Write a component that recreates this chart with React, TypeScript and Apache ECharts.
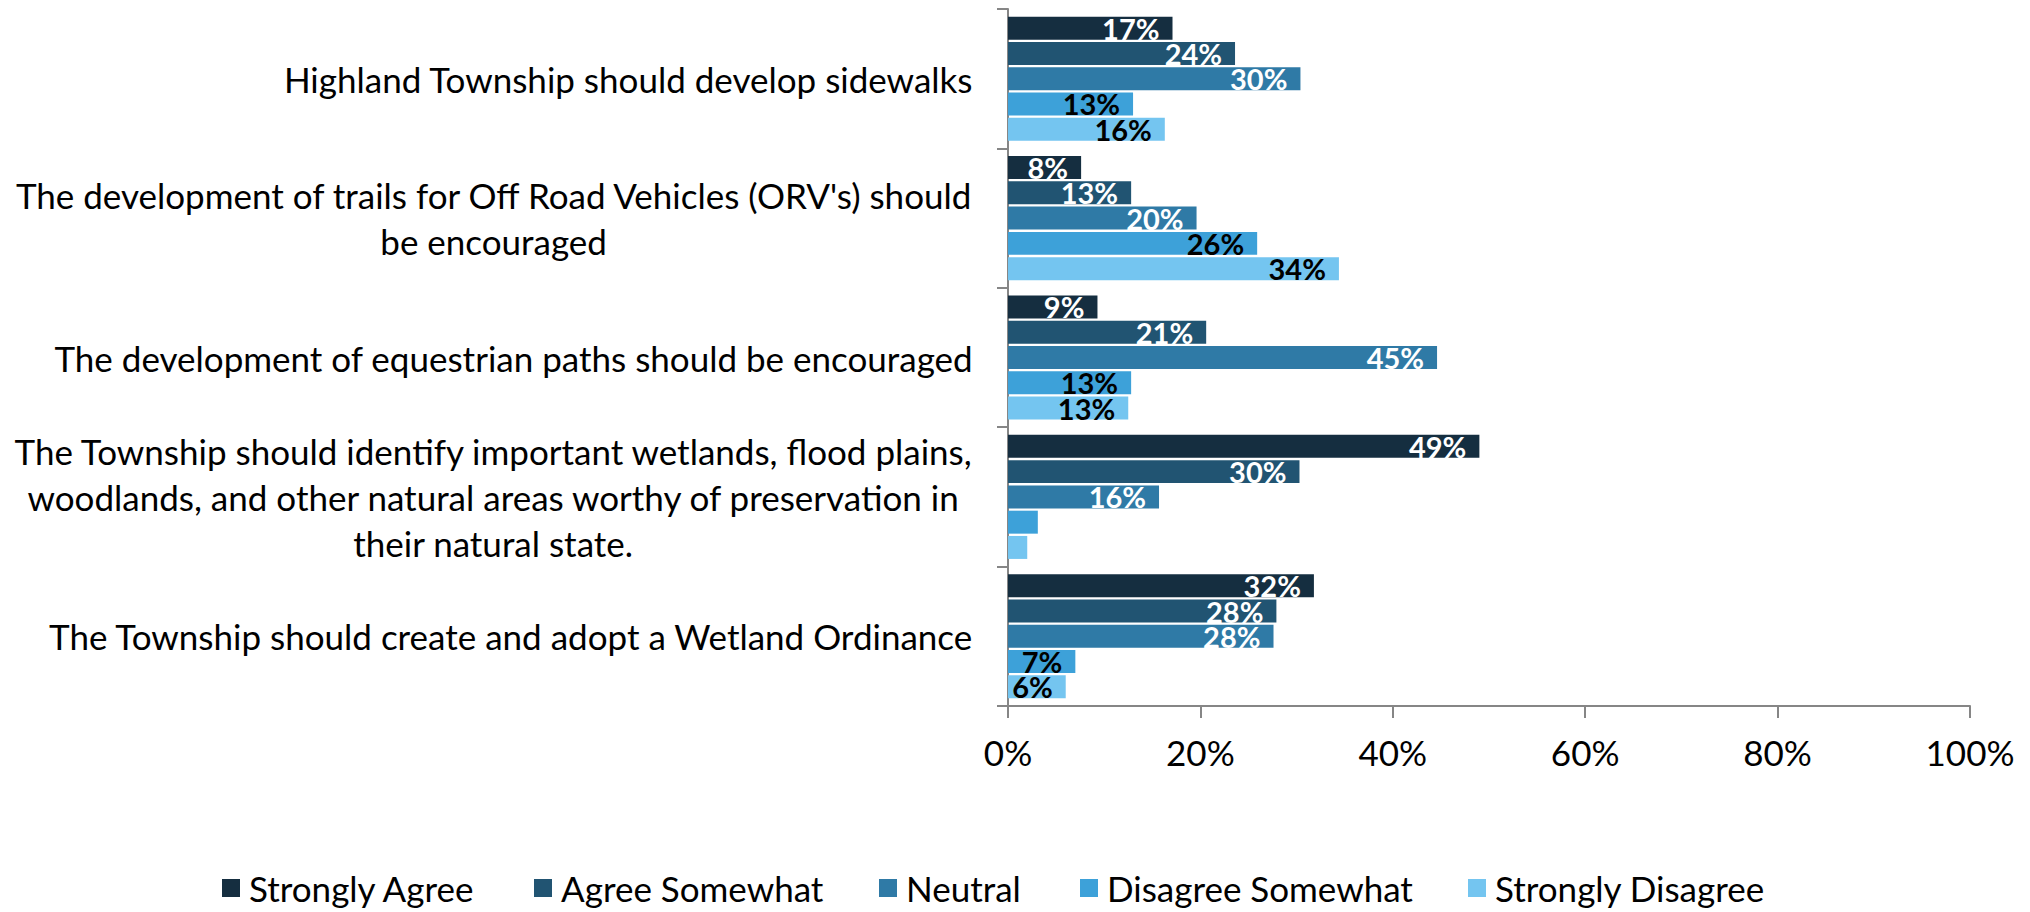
import React, { useEffect, useRef } from "react";
import * as echarts from "echarts";

const categories = [
  "Highland Township should develop sidewalks",
  "The development of trails for Off Road Vehicles (ORV's) should\nbe encouraged",
  "The development of equestrian paths should be encouraged",
  "The Township should identify important wetlands, flood plains,\nwoodlands, and other natural areas worthy of preservation in\ntheir natural state.",
  "The Township should create and adopt a Wetland Ordinance",
];

const seriesNames = [
  "Strongly Agree",
  "Agree Somewhat",
  "Neutral",
  "Disagree Somewhat",
  "Strongly Disagree",
];

const stronglyAgree = [17.1, 7.6, 9.3, 49.0, 31.8];
const agreeSomewhat = [23.6, 12.8, 20.6, 30.3, 27.9];
const neutral = [30.4, 19.6, 44.6, 15.7, 27.6];
const disagreeSomewhat = [13.0, 25.9, 12.8, 3.1, 7.0];
const stronglyDisagree = [16.3, 34.4, 12.5, 2.0, 6.0];

const xTicks = { min: 0, max: 100, interval: 20 };

const colors = ["#152e40", "#215472", "#2f7aa6", "#3da1d9", "#74c5f0"];
const labelColors = ["#ffffff", "#ffffff", "#ffffff", "#000000", "#000000"];
const legendLefts = [222, 534, 879, 1080, 1468];

const FONT = "Lato, 'Open Sans', sans-serif";

export default function App() {
  const ref = useRef<HTMLDivElement>(null);
  useEffect(() => {
    if (!ref.current) return;
    const chart = echarts.init(ref.current, undefined, { renderer: "svg" });
    const values = [stronglyAgree, agreeSomewhat, neutral, disagreeSomewhat, stronglyDisagree];
    const option: any = {
      animation: false,
      backgroundColor: "#ffffff",
      textStyle: { fontFamily: FONT },
      grid: { left: 1008, right: 60, top: 9, bottom: 206, containLabel: false },
      legend: seriesNames.map((n, i) => ({
        data: [n],
        left: legendLefts[i],
        top: 867,
        padding: 0,
        itemWidth: 18,
        itemHeight: 18,
        itemGap: 0,
        icon: "rect",
        textStyle: { fontSize: 35, lineHeight: 42, color: "#000", fontFamily: FONT, padding: [0, 0, 0, 4] },
      })),
      xAxis: {
        type: "value",
        min: xTicks.min,
        max: xTicks.max,
        interval: xTicks.interval,
        axisLine: { show: true, lineStyle: { color: "#868686", width: 2 } },
        axisTick: { show: true, length: 12, lineStyle: { color: "#868686", width: 2 } },
        splitLine: { show: false },
        axisLabel: {
          formatter: "{value}%",
          fontSize: 35,
          color: "#000",
          fontFamily: FONT,
          margin: 28,
        },
      },
      yAxis: {
        type: "category",
        data: categories,
        inverse: true,
        axisLine: { show: true, lineStyle: { color: "#868686", width: 2 } },
        axisTick: { show: true, length: 11, lineStyle: { color: "#868686", width: 2 } },
        axisLabel: {
          margin: 35,
          align: "right",
          formatter: (v: string) => v.split("\n").map((l) => `{c|${l}}`).join("\n"),
          rich: {
            c: { align: "center", fontSize: 35, lineHeight: 46, color: "#000", fontFamily: FONT },
          },
        },
      },
      series: seriesNames.map((n, i) => ({
        name: n,
        type: "bar",
        data: values[i],
        barCategoryGap: "11%",
        barGap: "10%",
        itemStyle: { color: colors[i] },
        label: {
          show: true,
          position: "insideRight",
          distance: 13,
          color: labelColors[i],
          fontWeight: "bold",
          fontSize: 29,
          fontFamily: FONT,
          formatter: (p: any) => (p.value >= 5 ? Math.round(p.value) + "%" : ""),
        },
      })),
    };
    chart.setOption(option);
    return () => chart.dispose();
  }, []);
  return (
    <div
      ref={ref}
      style={{ position: "absolute", left: 0, top: 0, width: 2030, height: 912, background: "#fff" }}
    />
  );
}
